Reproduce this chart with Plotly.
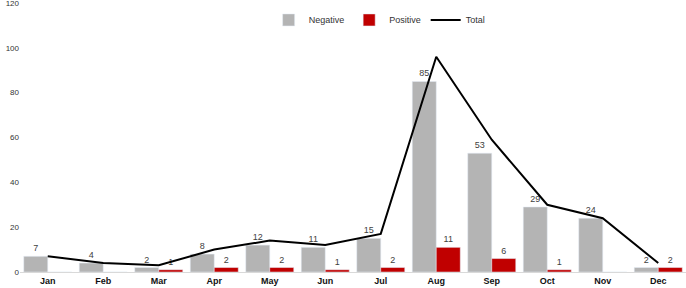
import plotly.graph_objects as go

months = ["Jan", "Feb", "Mar", "Apr", "May", "Jun", "Jul", "Aug", "Sep", "Oct", "Nov", "Dec"]
negative = [7, 4, 2, 8, 12, 11, 15, 85, 53, 29, 24, 2]
positive = [0, 0, 1, 2, 2, 1, 2, 11, 6, 1, 0, 2]
total = [7, 4, 3, 10, 14, 12, 17, 96, 59, 30, 24, 4]
y_ticks = [0, 20, 40, 60, 80, 100, 120]

pos_text = [str(v) if v > 0 else "" for v in positive]
FONT = "Liberation Sans, Arial, sans-serif"

fig = go.Figure()
fig.add_trace(go.Bar(
    x=months, y=negative, name="Negative", marker_color="#b4b4b4",
    text=[str(v) for v in negative], textposition="outside",
    textfont=dict(size=9, color="#404040", family=FONT),
    cliponaxis=False,
))
fig.add_trace(go.Bar(
    x=months, y=positive, name="Positive", marker_color="#c00000",
    text=pos_text, textposition="outside",
    textfont=dict(size=9, color="#404040", family=FONT),
    cliponaxis=False,
))
fig.add_trace(go.Scatter(
    x=months, y=total, name="Total", mode="lines",
    line=dict(color="black", width=2), cliponaxis=False,
))

fig.update_layout(
    width=686, height=288,
    margin=dict(l=20, r=0, t=3, b=16),
    paper_bgcolor="white", plot_bgcolor="white",
    barmode="group", bargap=0.135, bargroupgap=0,
    font=dict(family=FONT, size=9, color="#222"),
    showlegend=True,
    legend=dict(orientation="h", x=0.54, xanchor="center", y=0.937, yanchor="middle",
                font=dict(size=9, color="#333"), bgcolor="rgba(0,0,0,0)"),
    xaxis=dict(showgrid=False, showline=True, linecolor="#d9d9d9", linewidth=1,
               ticks="", tickfont=dict(size=9, color="#111", family=FONT, weight="bold")),
    yaxis=dict(range=[0, 120], tickvals=y_ticks, showgrid=False, zeroline=False,
               showline=False, ticks="", ticklabeloverflow="allow",
               tickfont=dict(size=8, color="#333", family=FONT)),
)
fig.write_html("out.html", config={"displayModeBar": False},
               post_script="document.body.style.margin='0';")
